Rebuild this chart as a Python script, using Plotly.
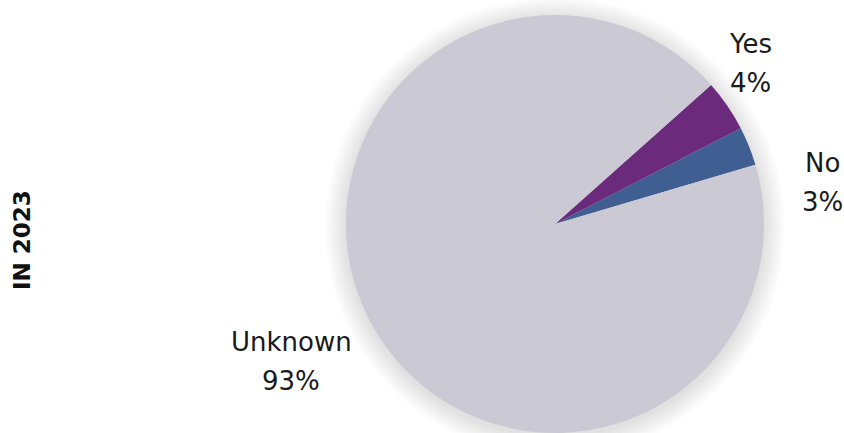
import plotly.graph_objects as go

# Share of responses in 2023
labels = ["No", "Yes", "Unknown"]
values = [3, 4, 93]
colors = ["#3F5E92", "#6C2A7D", "#CBC9D4"]

W, H = 844, 433
cx, cy, r = 555, 224, 209  # pie centre / radius in pixels

fig = go.Figure()
fig.add_trace(go.Pie(
    labels=labels,
    values=values,
    sort=False,
    direction="counterclockwise",
    rotation=62.7,
    textinfo="none",
    hoverinfo="label+percent",
    marker=dict(colors=colors, line=dict(width=0)),
    showlegend=False,
    domain=dict(x=[(cx - r) / W, (cx + r) / W],
                y=[max(0, 1 - (cy + r) / H), 1 - (cy - r) / H]),
))

# soft grey shadow behind the pie
shapes = []
for k in range(1, 16):
    rr = r + k * 1.4
    shapes.append(dict(
        type="circle", layer="below",
        xref="paper", yref="paper",
        xsizemode="pixel", ysizemode="pixel",
        xanchor=cx / W, yanchor=1 - (cy + 3) / H,
        x0=-rr, x1=rr, y0=-rr, y1=rr,
        fillcolor="rgba(70,70,75,0.012)", line=dict(width=0),
    ))

font_main = dict(family="DejaVu Sans, Noto Sans, sans-serif", size=26, color="#1a1a1a")
label_pos = {"Yes": (750, 44), "No": (822, 163), "Unknown": (291, 342)}
total = sum(values)
annotations = []
for lab, val in zip(labels, values):
    x, y = label_pos[lab]
    annotations.append(dict(x=x / W, y=1 - y / H, xref="paper", yref="paper",
                            text=lab, showarrow=False, font=font_main,
                            xanchor="center", yanchor="middle"))
    annotations.append(dict(x=x / W, y=1 - (y + 39) / H, xref="paper", yref="paper",
                            text=f"{round(val / total * 100)}%", showarrow=False,
                            font=font_main, xanchor="center", yanchor="middle"))

annotations.append(dict(x=22 / W, y=1 - 240 / H, xref="paper", yref="paper",
                        text="<b>IN 2023</b>", showarrow=False, textangle=-90,
                        font=dict(family="DejaVu Sans, sans-serif", size=23, color="#111111"),
                        xanchor="center", yanchor="middle"))

fig.update_layout(
    width=W, height=H,
    margin=dict(l=0, r=0, t=0, b=0),
    paper_bgcolor="white", plot_bgcolor="white",
    shapes=shapes,
    annotations=annotations,
)

fig.write_html("out.html")
